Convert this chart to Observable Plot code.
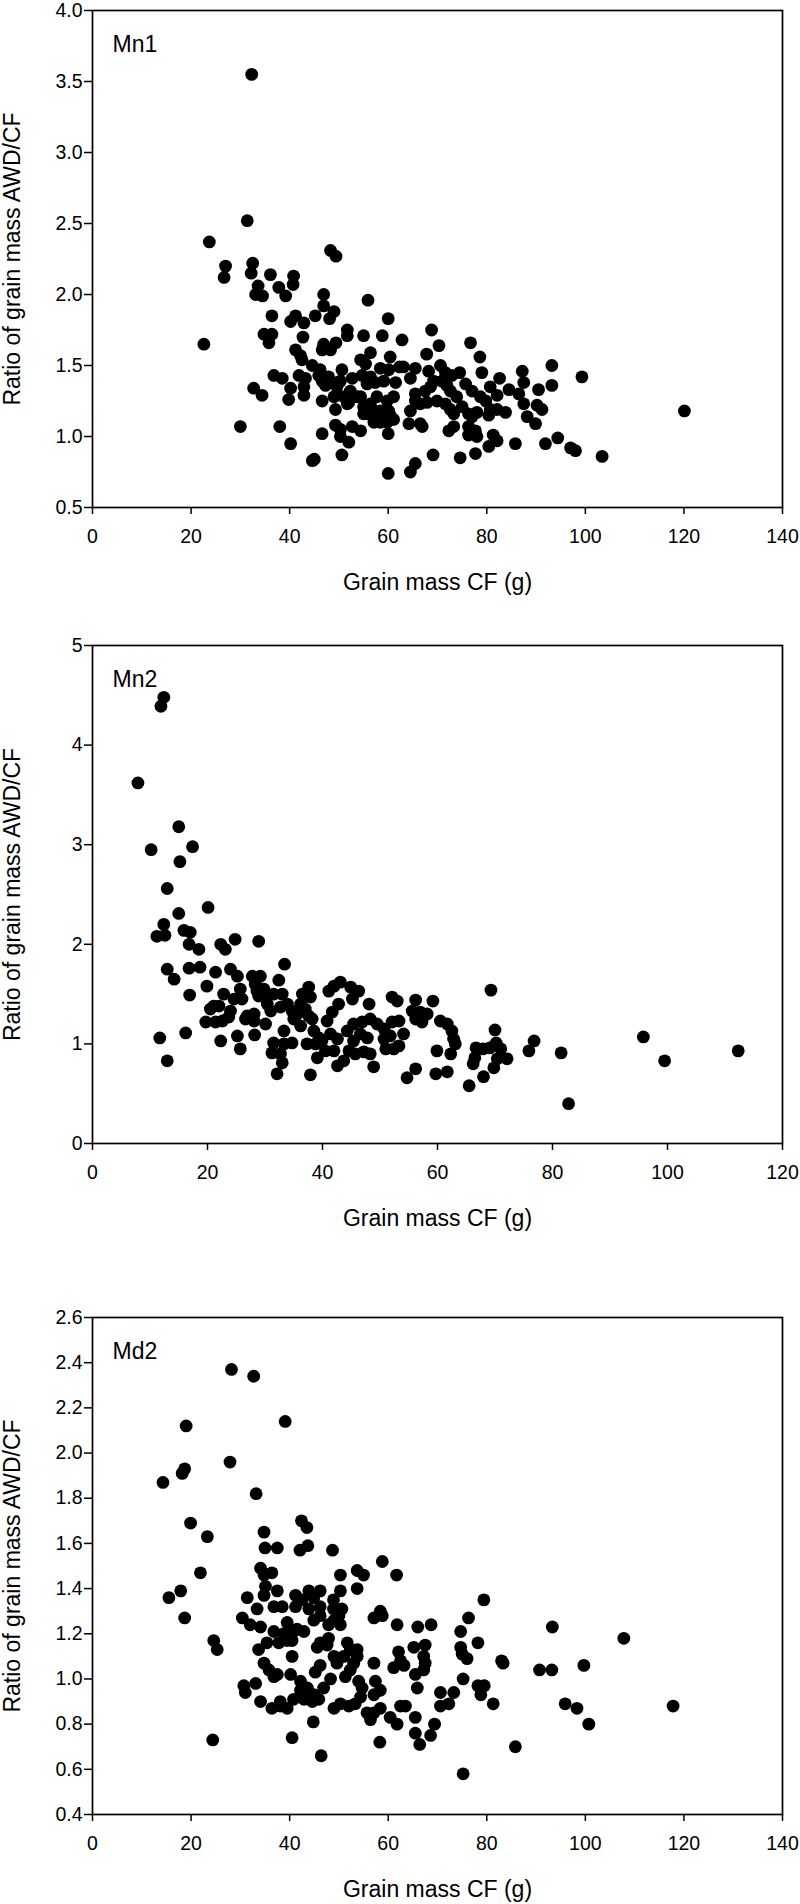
<!DOCTYPE html>
<html>
<head>
<meta charset="utf-8">
<script src="https://cdn.jsdelivr.net/npm/d3@7"></script>
<script src="https://cdn.jsdelivr.net/npm/@observablehq/plot@0.6"></script>
<style>
  html, body { margin: 0; padding: 0; background: #fff; }
  #chart svg { display: block; }
</style>
</head>
<body>
<div id="chart"></div>
<script>
// ---------- data (x = grain mass CF in g, y = ratio AWD/CF) ----------
const panelLabels = ["Mn1", "Mn2", "Md2"];
const xAxisLabel = "Grain mass CF (g)";
const yAxisLabel = "Ratio of grain mass AWD/CF";

const mn1XTicks = [0, 20, 40, 60, 80, 100, 120, 140];
const mn1YTicks = [0.5, 1.0, 1.5, 2.0, 2.5, 3.0, 3.5, 4.0];
const mn2XTicks = [0, 20, 40, 60, 80, 100, 120];
const mn2YTicks = [0, 1, 2, 3, 4, 5];
const md2XTicks = [0, 20, 40, 60, 80, 100, 120, 140];
const md2YTicks = [0.4, 0.6, 0.8, 1.0, 1.2, 1.4, 1.6, 1.8, 2.0, 2.2, 2.4, 2.6];

const mn1 = [
  [32.3,3.55],[31.4,2.52],[23.7,2.37],[48.3,2.31],[49.4,2.27],[27.0,2.20],[26.7,2.12],[32.5,2.22],[32.2,2.15],[36.1,2.14],
  [40.8,2.13],[40.7,2.07],[33.6,2.06],[37.8,2.05],[33.1,2.00],[34.5,1.99],[39.2,1.99],[46.9,2.00],[55.9,1.96],
  [46.9,1.92],[49.0,1.88],[36.4,1.85],[40.2,1.81],[41.2,1.85],[42.9,1.80],[45.2,1.85],[48.1,1.83],[60.0,1.83],
  [34.8,1.72],[36.4,1.72],[35.8,1.66],[22.6,1.65],[42.7,1.70],[51.7,1.75],[51.7,1.71],[55.0,1.71],[58.8,1.71],[62.8,1.68],
  [46.9,1.65],[46.6,1.61],[48.3,1.61],[49.4,1.66],[41.2,1.61],[42.2,1.57],[42.5,1.54],[56.4,1.59],[60.4,1.56],[54.4,1.54],
  [55.4,1.51],[44.6,1.50],[46.2,1.47],[50.6,1.47],[52.7,1.41],[58.4,1.48],[60.1,1.47],[62.3,1.49],
  [36.8,1.43],[38.5,1.41],[41.9,1.43],[43.2,1.41],[42.9,1.35],[40.2,1.34],[45.9,1.43],[46.6,1.39],[47.9,1.42],[49.0,1.38],
  [47.3,1.36],[49.6,1.35],[50.3,1.39],[54.7,1.43],[56.4,1.42],[55.7,1.37],[57.4,1.38],[59.1,1.39],[61.5,1.38],
  [32.7,1.34],[34.4,1.29],[39.8,1.26],[42.9,1.29],[52.3,1.32],[53.7,1.28],[52.0,1.24],[54.4,1.28],[49.0,1.28],[51.0,1.28],
  [46.6,1.25],[49.3,1.19],[51.7,1.23],[55.0,1.21],[56.4,1.23],[57.1,1.18],[55.7,1.16],[57.7,1.28],[59.8,1.25],[61.1,1.28],
  [58.4,1.18],[60.1,1.18],[58.8,1.14],[60.4,1.15],[61.1,1.12],[59.8,1.10],[58.4,1.10],[57.1,1.10],[55.0,1.16],
  [30.0,1.07],[38.0,1.07],[49.3,1.08],[50.3,1.05],[50.3,1.00],[52.0,0.96],[52.7,1.07],[54.4,1.04],[46.6,1.02],[60.0,1.02],
  [40.2,0.95],[50.6,0.87],[44.6,0.83],[45.0,0.84],[60.0,0.74],
  [68.8,1.75],[70.3,1.64],[76.7,1.66],[78.6,1.56],[67.8,1.58],[93.2,1.50],[99.3,1.42],[93.2,1.36],[87.2,1.46],[87.5,1.38],
  [90.5,1.33],[90.2,1.22],[91.2,1.19],[79.0,1.45],[82.6,1.41],[80.7,1.35],[82.1,1.29],[84.5,1.33],[86.5,1.30],[87.5,1.23],
  [88.2,1.14],[89.9,1.09],[63.1,1.49],[65.5,1.48],[64.5,1.41],[68.2,1.46],[70.6,1.50],[71.6,1.45],[72.9,1.43],[74.5,1.45],
  [69.2,1.39],[68.6,1.35],[70.9,1.39],[71.9,1.36],[72.6,1.32],[73.9,1.28],[75.7,1.37],[77.0,1.32],[78.7,1.28],[79.8,1.25],
  [80.7,1.19],[80.4,1.15],[65.5,1.30],[67.5,1.32],[65.5,1.25],[66.5,1.23],[67.9,1.24],[64.5,1.18],[64.2,1.09],[66.5,1.09],
  [66.9,1.07],[69.9,1.25],[71.6,1.23],[72.6,1.19],[73.3,1.16],[75.0,1.21],[76.3,1.16],[77.0,1.14],[78.0,1.17],[82.1,1.19],
  [83.8,1.17],[72.3,1.04],[73.3,1.07],[76.3,1.07],[76.3,1.01],[77.7,1.04],[78.0,1.00],[81.3,1.01],[82.1,0.97],[80.4,0.93],
  [85.8,0.95],[91.9,0.95],[94.4,0.99],[97.0,0.92],[98.0,0.90],[103.4,0.86],[120.1,1.18],[69.1,0.87],[74.6,0.85],[77.7,0.88],
  [65.5,0.81],[64.5,0.75]
];

const mn2 = [
  [12.4,4.48],[11.9,4.39],[7.9,3.62],[15.0,3.18],[10.2,2.95],[17.4,2.98],[15.2,2.83],[13.0,2.56],[15.0,2.31],[20.1,2.37],
  [12.4,2.20],[11.2,2.08],[12.6,2.09],[15.9,2.14],[17.0,2.12],[16.8,2.00],[18.5,1.95],[22.3,2.00],[23.1,1.95],[24.8,2.05],[28.9,2.03],
  [13.0,1.75],[14.2,1.65],[16.8,1.76],[18.7,1.77],[16.9,1.49],[19.9,1.58],[21.4,1.72],[24.0,1.75],[25.2,1.68],[22.8,1.50],
  [22.0,1.38],[20.5,1.35],[21.1,1.38],[25.7,1.55],[26.0,1.45],[24.6,1.45],[24.0,1.33],[19.7,1.22],[21.4,1.22],[22.6,1.23],
  [23.7,1.27],[26.9,1.28],[28.1,1.30],[27.8,1.68],[29.2,1.68],[28.3,1.60],[29.8,1.55],[30.1,1.50],[28.6,1.53],[28.9,1.48],
  [32.4,1.64],[33.4,1.80],[31.5,1.50],[33.0,1.50],[33.9,1.40],[32.7,1.37],[34.7,1.33],[35.6,1.30],[30.4,1.40],[31.0,1.33],
  [30.1,1.20],[26.6,1.25],[28.1,1.23],[11.7,1.06],[13.0,0.83],[16.2,1.11],[25.2,1.08],[25.7,0.95],[22.3,1.03],[28.2,1.09],
  [31.5,1.01],[33.3,1.00],[34.7,1.01],[33.3,1.13],[31.2,0.91],[32.7,0.90],[33.0,0.81],[32.1,0.70],[37.9,0.69],
  [36.5,1.50],[37.6,1.57],[37.9,1.47],[36.2,1.40],[37.0,1.35],[37.6,1.28],[38.2,1.25],[35.0,1.25],[36.2,1.18],[38.5,1.13],
  [39.4,1.06],[37.3,1.00],[38.8,1.00],[39.9,1.03],[39.1,0.86],[40.5,0.93],[41.1,1.53],[42.0,1.58],[43.1,1.62],[42.8,1.40],
  [41.7,1.32],[40.8,1.23],[44.9,1.57],[46.3,1.53],[45.2,1.45],[48.1,1.40],[41.4,1.10],[42.6,1.05],[42.0,0.93],[43.7,0.83],
  [42.6,0.78],[44.3,1.13],[45.4,1.20],[46.9,1.22],[48.3,1.25],[46.6,1.10],[47.8,1.06],[45.4,1.03],[44.6,0.93],[45.7,0.90],
  [47.2,0.92],[48.3,0.90],[48.9,0.77],[49.5,1.20],[50.7,1.15],[52.1,1.22],[53.3,1.23],[50.7,1.05],[51.8,1.08],[51.0,0.95],
  [52.1,1.47],[53.0,1.43],[52.4,0.95],[53.3,0.98],
  [69.3,1.54],[56.2,1.44],[59.2,1.43],[55.6,1.33],[57.0,1.32],[58.2,1.30],[56.2,1.25],[57.3,1.22],[60.5,1.23],[61.7,1.20],
  [62.5,1.13],[62.8,1.05],[54.1,1.10],[59.9,0.93],[62.3,0.90],[63.1,1.00],[66.7,0.96],[67.9,0.95],[69.1,0.96],[70.2,1.01],
  [66.5,0.86],[66.2,0.80],[70.0,1.14],[71.0,0.95],[72.1,0.85],[70.4,0.85],[69.8,0.76],[56.2,0.75],[54.7,0.66],[59.7,0.70],
  [61.7,0.72],[65.5,0.58],[68.0,0.67],[75.9,0.93],[76.8,1.03],[81.5,0.91],[82.8,0.40],[95.8,1.07],[99.5,0.83],[112.3,0.93]
];

const md2 = [
  [28.2,2.37],[32.7,2.34],[19.0,2.12],[39.1,2.14],[27.9,1.96],[18.7,1.93],[18.2,1.91],[14.3,1.87],[33.2,1.82],[19.9,1.69],
  [23.3,1.63],[21.9,1.47],[15.5,1.36],[17.9,1.39],[42.4,1.70],[43.5,1.67],[43.7,1.59],[42.1,1.57],[48.7,1.57],[34.8,1.65],
  [35.0,1.58],[37.5,1.58],[34.1,1.49],[36.4,1.47],[34.8,1.46],[35.1,1.41],[34.8,1.37],[37.5,1.39],[31.4,1.36],[50.3,1.46],
  [53.7,1.48],[55.0,1.46],[53.7,1.40],[58.8,1.52],[61.7,1.46],[41.2,1.37],[43.9,1.39],[46.2,1.39],[44.9,1.36],[42.5,1.35],
  [50.3,1.39],[48.9,1.35],[79.4,1.35],[33.4,1.31],[36.8,1.32],[38.5,1.32],[41.2,1.32],[43.9,1.31],[46.2,1.32],[48.9,1.31],
  [50.6,1.31],[58.4,1.30],
  [18.7,1.27],[24.6,1.17],[25.3,1.13],[24.4,0.73],[40.5,0.74],[46.4,0.66],[44.8,0.81],[58.3,0.72],[30.4,1.27],[32.0,1.24],
  [34.1,1.23],[33.7,1.13],[35.4,1.16],[34.8,1.07],[35.8,1.04],[37.5,1.02],[36.8,1.01],[30.7,0.97],[31.0,0.94],[33.1,0.98],
  [34.1,0.90],[36.4,0.87],[38.1,0.88],[39.5,0.87],[38.1,0.90],[36.8,1.21],[37.8,1.16],[38.8,1.20],[39.5,1.17],[40.5,1.17],
  [40.8,1.21],[41.5,1.22],[42.9,1.21],[39.5,1.25],[40.5,1.10],[40.2,1.02],[42.2,0.99],[43.6,0.96],[44.9,0.93],[42.2,0.95],
  [40.8,0.91],[42.9,0.91],[44.6,0.90],[45.9,0.91],[45.2,1.03],[46.2,1.06],[45.6,1.14],[46.2,1.16],[47.9,1.18],[47.6,1.15],
  [44.9,1.26],[46.2,1.28],[47.9,1.24],[49.0,1.26],[50.3,1.24],[50.0,1.28],[48.3,1.00],[46.9,0.96],[49.0,0.87],[50.3,0.89],
  [52.0,0.88],[53.3,0.89],[54.4,0.92],[54.7,0.96],[54.0,0.99],[51.3,1.01],[52.3,1.04],[53.0,1.07],[53.7,1.10],[52.3,1.13],
  [51.7,1.16],[53.7,1.13],[51.0,1.10],[49.6,1.07],[49.0,1.10],[57.1,1.27],[58.8,1.28],[57.1,1.07],[61.1,1.05],[62.1,1.12],
  [57.4,0.99],[58.4,0.95],[57.1,0.93],[55.7,0.85],[56.4,0.82],[57.1,0.85],[58.4,0.87],[60.4,0.83],[61.8,0.80],[61.8,1.24],
  [62.5,0.88],
  [76.3,1.27],[74.7,1.21],[74.7,1.14],[75.0,1.11],[76.0,1.09],[78.2,1.16],[75.2,1.00],[78.2,0.97],[79.5,0.97],[78.8,0.93],
  [81.3,0.89],[83.0,1.08],[83.3,1.07],[93.3,1.23],[107.8,1.18],[90.7,1.04],[93.2,1.04],[99.7,1.06],[95.9,0.89],[98.3,0.87],
  [100.7,0.80],[117.8,0.88],[85.8,0.70],[75.2,0.58],[68.7,1.24],[66.0,1.23],[67.5,1.15],[65.2,1.14],[67.2,1.10],[67.5,1.07],
  [67.2,1.04],[65.5,1.02],[65.9,0.96],[62.5,1.08],[63.2,1.06],[70.6,0.94],[70.6,0.88],[72.3,0.89],[73.3,0.94],[63.5,0.88],
  [65.5,0.83],[65.5,0.76],[66.4,0.71],[68.6,0.75],[69.4,0.80]
];

// ---------- drawing ----------
const FONT = "'Liberation Sans', Arial, Helvetica, sans-serif";

function panel({data, label, xTicks, yTicks, yFormat, height, marginTop, marginBottom}) {
  return Plot.plot({
    width: 800,
    height,
    marginLeft: 92,
    marginRight: 18,
    marginTop,
    marginBottom,
    style: {fontFamily: FONT, fontSize: "19px", color: "#000", background: "#fff", overflow: "visible"},
    x: {domain: [xTicks[0], xTicks[xTicks.length - 1]]},
    y: {domain: [yTicks[0], yTicks[yTicks.length - 1]]},
    marks: [
      Plot.axisX(xTicks, {tickSize: 7, tickPadding: 15, strokeWidth: 1.5, label: null, tickFormat: d3.format("d"), fontSize: 19.5}),
      Plot.axisY(yTicks, {tickSize: 8, tickPadding: 2, strokeWidth: 1.5, label: null, tickFormat: yFormat, fontSize: 19.5}),
      Plot.dot(data, {x: d => d[0], y: d => d[1], r: 6.4, fill: "#000", stroke: "none"}),
      Plot.frame({stroke: "#000", strokeWidth: 1.7}),
      Plot.text([label], {frameAnchor: "top-left", dx: 20, dy: 41, lineAnchor: "bottom", textAnchor: "start", fontSize: 23, fill: "#000"}),
      Plot.text([xAxisLabel], {frameAnchor: "bottom", dy: 82, lineAnchor: "bottom", textAnchor: "middle", fontSize: 23, fill: "#000"}),
      Plot.text([yAxisLabel], {frameAnchor: "left", dx: -89, rotate: -90, lineAnchor: "top", textAnchor: "middle", fontSize: 23, fill: "#000"})
    ]
  });
}

const chart = document.getElementById("chart");
chart.append(panel({data: mn1, label: panelLabels[0], xTicks: mn1XTicks, yTicks: mn1YTicks, yFormat: d3.format(".1f"),
  height: 620, marginTop: 10, marginBottom: 113}));
chart.append(panel({data: mn2, label: panelLabels[1], xTicks: mn2XTicks, yTicks: mn2YTicks, yFormat: d3.format("d"),
  height: 660, marginTop: 25, marginBottom: 137}));
chart.append(panel({data: md2, label: panelLabels[2], xTicks: md2XTicks, yTicks: md2YTicks, yFormat: d3.format(".1f"),
  height: 624, marginTop: 37, marginBottom: 90}));
</script>
</body>
</html>
